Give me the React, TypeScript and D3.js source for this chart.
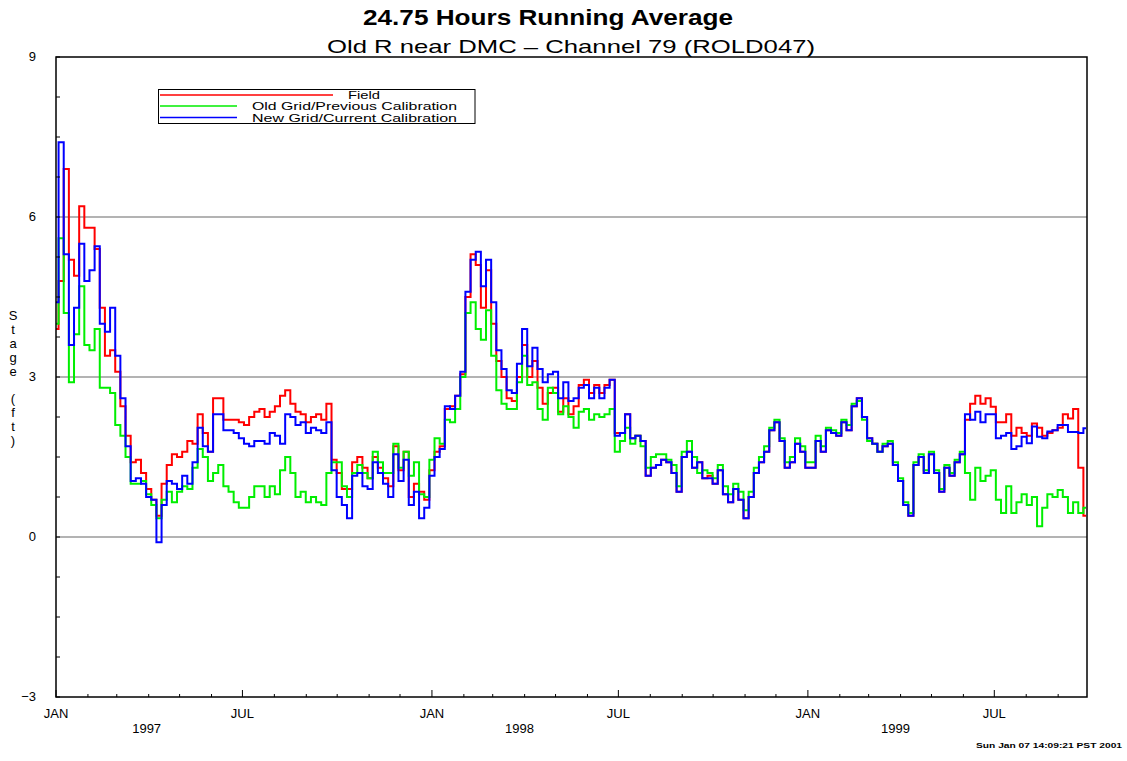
import React from "react";
import * as d3 from "d3";

const TITLE = "24.75 Hours Running Average";
const SUBTITLE = "Old R near DMC \u2013 Channel 79 (ROLD047)";
const Y_LABEL = "Stage (ft)";
const FOOTER = "Sun Jan 07 14:09:21 PST 2001";

const START = Date.UTC(1997, 0, 1);
const END = Date.UTC(1999, 8, 29);
const STEP_DAYS = 5;
const DAY_MS = 86400000;

const yTickLabels = [9, 6, 3, 0, -3];
const gridValues = [6, 3, 0];
const monthLabels = [
  { date: Date.UTC(1997, 0, 1), label: "JAN" },
  { date: Date.UTC(1997, 6, 1), label: "JUL" },
  { date: Date.UTC(1998, 0, 1), label: "JAN" },
  { date: Date.UTC(1998, 6, 1), label: "JUL" },
  { date: Date.UTC(1999, 0, 1), label: "JAN" },
  { date: Date.UTC(1999, 6, 1), label: "JUL" },
];
const yearLabels = [
  { date: Date.UTC(1997, 2, 30), label: "1997" },
  { date: Date.UTC(1998, 2, 27), label: "1998" },
  { date: Date.UTC(1999, 2, 27), label: "1999" },
];

// Field (red), sampled every 5 days from Jan 1 1997
const fieldStage = [
  3.9, 4.8, 6.9, 5.2, 4.9, 6.2, 5.8, 5.8, 5.4, 4.3,
  3.4, 3.5, 3.1, 2.45, 1.9, 1.4, 1.45, 1.2, 0.9, 0.7,
  0.4, 1.0, 1.35, 1.55, 1.5, 1.6, 1.8, 1.75, 2.3, 1.95,
  1.6, 2.6, 2.6, 2.2, 2.2, 2.2, 2.15, 2.1, 2.25, 2.35,
  2.4, 2.25, 2.35, 2.45, 2.65, 2.75, 2.5, 2.35, 2.3, 2.15,
  2.25, 2.3, 2.2, 2.5, 1.45, 1.2, 0.9, 0.9, 1.4, 1.5,
  1.3, 1.1, 1.5, 1.3, 1.1, 0.95, 1.7, 1.25, 1.6, 0.75,
  1.0, 0.85, 0.7, 1.25, 1.6, 1.7, 2.4, 2.45, 2.65, 3.05,
  4.5, 5.3, 5.1, 4.3, 5.0, 4.0, 3.3, 3.0, 2.6, 2.55,
  3.0, 3.6, 3.0, 3.3, 2.8, 2.5, 2.7, 2.8, 2.35, 2.6,
  2.3, 2.45, 2.85, 2.95, 2.7, 2.85, 2.7, 2.85, 2.95, 1.95,
  1.95, 2.3, 1.85, 1.9, 1.8, 1.15, 1.3, 1.35, 1.45, 1.4,
  1.2, 0.85, 1.5, 1.6, 1.3, 1.4, 1.1, 1.15, 1.0, 1.25,
  0.8, 0.65, 0.9, 0.7, 0.35, 0.75, 1.2, 1.4, 1.6, 2.0,
  2.15, 1.8, 1.3, 1.4, 1.75, 1.6, 1.3, 1.3, 1.8, 1.6,
  2.0, 1.95, 1.9, 2.15, 2.0, 2.45, 2.6, 2.25, 1.85, 1.75,
  1.6, 1.7, 1.75, 1.35, 1.05, 0.6, 0.4, 1.35, 1.5, 1.2,
  1.55, 1.2, 0.85, 1.3, 1.15, 1.4, 1.55, 2.2, 2.5, 2.65,
  2.5, 2.6, 2.44, 2.15, 2.15, 2.3, 1.9, 2.05, 1.95, 1.9,
  2.13, 2.05, 1.9, 1.95, 2.0, 2.05, 2.3, 2.22, 2.4, 1.3,
  0.4,
];

// Old Grid / Previous Calibration (green)
const oldGridStage = [
  4.0, 5.6, 4.2, 2.9, 3.8, 4.7, 3.6, 3.5, 3.9, 2.8,
  2.8, 2.7, 2.1, 1.9, 1.5, 1.0, 1.0, 1.05, 0.8, 0.6,
  0.35, 0.7, 0.85, 0.65, 0.85, 0.95, 0.9, 1.3, 1.65, 1.5,
  1.05, 1.2, 1.35, 0.95, 0.85, 0.65, 0.55, 0.55, 0.75, 0.95,
  0.95, 0.75, 0.95, 0.8, 1.25, 1.5, 1.2, 0.75, 0.85, 0.65,
  0.75, 0.65, 0.6, 1.2, 1.4, 1.4, 0.95, 0.75, 1.2, 1.35,
  1.2, 1.1, 1.6, 1.4, 1.2, 1.2, 1.75, 1.3, 1.6, 1.15,
  1.4, 0.8, 0.75, 1.45, 1.85, 1.75, 2.2, 2.15, 2.4, 3.0,
  4.2, 4.4, 3.9, 3.7, 4.25, 3.4, 2.75, 2.5, 2.4, 2.4,
  2.9, 3.4, 2.85, 2.9, 2.4, 2.2, 2.8, 2.7, 2.3, 2.45,
  2.25, 2.05, 2.35, 2.4, 2.2, 2.3, 2.25, 2.3, 2.4, 1.6,
  1.8, 2.05, 1.75, 1.9, 1.7, 1.3, 1.5, 1.55, 1.55, 1.45,
  1.35, 0.95, 1.6, 1.8, 1.5, 1.2, 1.25, 1.2, 1.1, 1.35,
  0.95, 0.8, 1.0, 0.85, 0.5, 0.85, 1.3, 1.5, 1.7, 2.05,
  2.2, 1.85, 1.4, 1.5, 1.85, 1.7, 1.4, 1.4, 1.9, 1.7,
  2.05, 2.0, 1.95, 2.2, 2.1, 2.5, 2.55, 2.2, 1.8, 1.75,
  1.6, 1.75, 1.8, 1.4, 1.1, 0.65, 0.45, 1.4, 1.55, 1.25,
  1.6, 1.25, 0.9, 1.35, 1.2, 1.45, 1.6, 1.2, 0.7, 1.3,
  1.05, 1.15, 1.25, 0.7, 0.45, 0.95, 0.45, 0.65, 0.8, 0.6,
  0.75, 0.2, 0.55, 0.8, 0.75, 0.88, 0.75, 0.45, 0.65, 0.45,
  0.55,
];

// New Grid / Current Calibration (blue)
const newGridStage = [
  4.4, 7.4, 5.3, 3.6, 4.3, 5.5, 4.8, 5.0, 5.45, 4.0,
  3.85, 4.3, 3.4, 2.6, 1.7, 1.05, 1.1, 1.0, 0.75, 0.7,
  -0.1, 0.6, 1.05, 1.0, 0.9, 1.15, 1.0, 1.4, 2.05, 1.7,
  1.6, 2.3, 2.3, 2.0, 2.0, 1.95, 1.85, 1.75, 1.7, 1.8,
  1.8, 1.75, 1.95, 1.9, 1.75, 2.3, 2.25, 2.1, 2.15, 1.95,
  2.05, 2.0, 1.95, 2.15, 1.25, 0.75, 0.6, 0.35, 1.15, 1.2,
  0.95, 0.9, 1.4, 1.2, 1.0, 0.75, 1.55, 1.05, 1.45, 0.6,
  0.85, 0.35, 0.55, 1.15, 1.5, 1.65, 2.45, 2.4, 2.65, 3.1,
  4.6, 5.2, 5.35, 4.7, 5.2, 4.4, 3.5, 3.15, 2.75, 2.7,
  3.25, 3.9, 3.2, 3.55, 3.15, 2.9, 3.05, 3.1, 2.6, 2.9,
  2.55, 2.6, 2.8, 2.85, 2.6, 2.8, 2.6, 2.8, 2.95, 1.9,
  1.95, 2.3, 1.85, 1.9, 1.8, 1.15, 1.3, 1.35, 1.45, 1.4,
  1.2, 0.85, 1.5, 1.6, 1.3, 1.4, 1.1, 1.1, 1.0, 1.25,
  0.8, 0.65, 0.9, 0.7, 0.35, 0.75, 1.2, 1.4, 1.6, 2.0,
  2.15, 1.8, 1.3, 1.4, 1.75, 1.6, 1.3, 1.3, 1.8, 1.6,
  2.0, 1.95, 1.9, 2.15, 2.0, 2.45, 2.6, 2.25, 1.85, 1.75,
  1.6, 1.7, 1.75, 1.35, 1.05, 0.6, 0.4, 1.35, 1.5, 1.2,
  1.55, 1.2, 0.85, 1.3, 1.15, 1.4, 1.55, 2.3, 2.2, 2.35,
  2.15, 2.3, 2.3, 1.85, 1.9, 1.95, 1.65, 1.7, 1.88, 1.76,
  2.07, 1.88, 1.85, 1.98, 2.0, 2.1, 2.1, 1.97, 1.97, 1.95,
  2.04,
];

const seriesList = [
  { name: "Field", color: "#ff0000", values: fieldStage },
  { name: "Old Grid/Previous Calibration", color: "#00ee00", values: oldGridStage },
  { name: "New Grid/Current Calibration", color: "#0000ff", values: newGridStage },
];

const W = 1127;
const H = 761;
const M = { left: 56, right: 1087, top: 57, bottom: 697 };
const FONT = "'Liberation Sans', Arial, Helvetica, sans-serif";

export default function App() {
  const x = d3.scaleUtc().domain([new Date(START), new Date(END)]).range([M.left, M.right]);
  const y = d3.scaleLinear().domain([-3, 9]).range([M.bottom, M.top]);

  const dateAt = (i: number) => new Date(START + i * STEP_DAYS * DAY_MS);
  const line = d3
    .line<number>()
    .x((_, i) => x(dateAt(i)))
    .y((d) => y(d))
    .curve(d3.curveStep);

  const minorY = d3.range(-3, 9.001, 0.75);
  const months = d3.utcMonth.range(new Date(START), new Date(END));

  const legend = [
    { s: seriesList[0], x2: 333, ly: 95, tx: 348, tw: 32, ty: 99 },
    { s: seriesList[1], x2: 237, ly: 106, tx: 252, tw: 205, ty: 110 },
    { s: seriesList[2], x2: 237, ly: 117.5, tx: 252, tw: 205, ty: 121.5 },
  ];

  return (
    <div style={{ position: "absolute", left: 0, top: 0 }}>
      <svg width={W} height={H} style={{ display: "block", background: "#fff" }} fontFamily={FONT}>
        <defs>
          <clipPath id="plotClip">
            <rect x={M.left} y={M.top} width={M.right - M.left} height={M.bottom - M.top} />
          </clipPath>
        </defs>
        <text x={548} y={25} textAnchor="middle" fontSize={22} fontWeight="bold" textLength={370} lengthAdjust="spacingAndGlyphs">
          {TITLE}
        </text>
        <text x={571} y={53} textAnchor="middle" fontSize={19} textLength={488} lengthAdjust="spacingAndGlyphs">
          {SUBTITLE}
        </text>

        {gridValues.map((v) => (
          <line key={v} x1={M.left} x2={M.right} y1={y(v)} y2={y(v)} stroke="#9a9a9a" strokeWidth={1.5} />
        ))}

        <g clipPath="url(#plotClip)">
          {seriesList.map((s) => (
            <path key={s.name} d={line(s.values) || ""} fill="none" stroke={s.color} strokeWidth={2} strokeLinejoin="miter" />
          ))}
        </g>

        <rect x={M.left} y={M.top} width={M.right - M.left} height={M.bottom - M.top} fill="none" stroke="#000" strokeWidth={1.5} />

        {minorY.map((v) => (
          <line key={"yt" + v} x1={M.left} x2={M.left + 4} y1={y(v)} y2={y(v)} stroke="#000" strokeWidth={1} />
        ))}
        {yTickLabels.map((v) => (
          <text key={"yl" + v} x={36} y={y(v) + 4} textAnchor="end" fontSize={13}>
            {v < 0 ? "\u2212" + Math.abs(v) : v}
          </text>
        ))}

        {months.map((m) => {
          const major = m.getUTCMonth() === 0 || m.getUTCMonth() === 6;
          return (
            <line key={"xt" + m.getTime()} x1={x(m)} x2={x(m)} y1={M.bottom} y2={M.bottom - (major ? 7 : 3)} stroke="#000" strokeWidth={1} />
          );
        })}
        {monthLabels.map((m) => (
          <text key={"ml" + m.date} x={x(new Date(m.date))} y={718} textAnchor="middle" fontSize={13}>
            {m.label}
          </text>
        ))}
        {yearLabels.map((m) => (
          <text key={"yr" + m.date} x={x(new Date(m.date))} y={733} textAnchor="middle" fontSize={13}>
            {m.label}
          </text>
        ))}

        {Y_LABEL.split("").map((c, i) => (
          <text key={"ylab" + i} x={13} y={320 + i * 13.9} textAnchor="middle" fontSize={13}>
            {c}
          </text>
        ))}

        <rect x={158.5} y={89.5} width={316.5} height={34} fill="#fff" stroke="#000" strokeWidth={1} />
        {legend.map((l) => (
          <g key={l.s.name}>
            <line x1={160} x2={l.x2} y1={l.ly} y2={l.ly} stroke={l.s.color} strokeWidth={1.5} />
            <text x={l.tx} y={l.ty} fontSize={10.5} textLength={l.tw} lengthAdjust="spacingAndGlyphs">
              {l.s.name}
            </text>
          </g>
        ))}

        <text x={1122} y={748} textAnchor="end" fontSize={7} fontWeight="bold" textLength={146} lengthAdjust="spacingAndGlyphs">
          {FOOTER}
        </text>
      </svg>
    </div>
  );
}
